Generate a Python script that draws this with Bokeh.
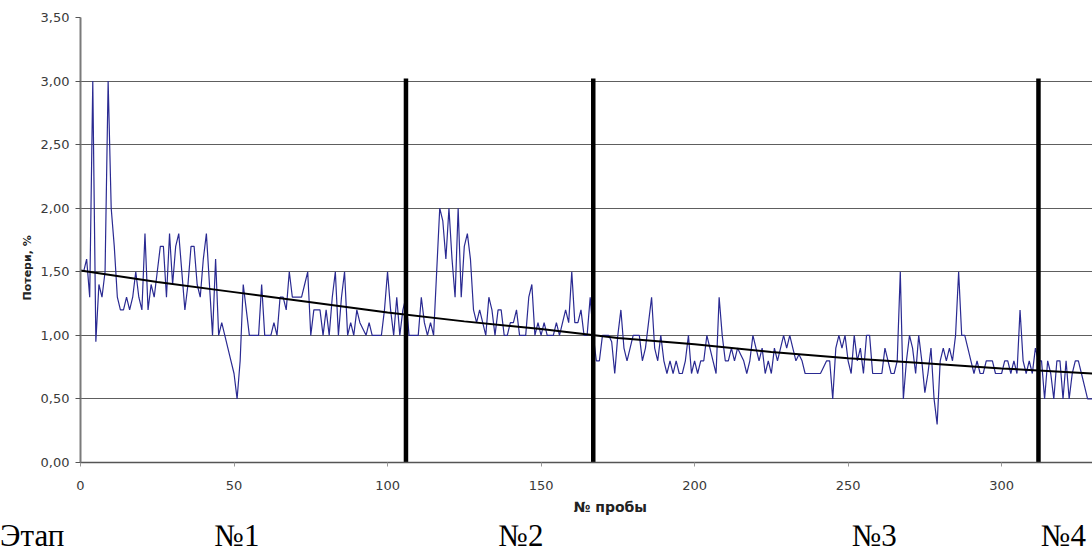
from bokeh.plotting import figure
from bokeh.models import FixedTicker, Range1d, Title, Div
from bokeh.layouts import column
from bokeh.embed import file_html
from bokeh.resources import INLINE

# ---- data ----
losses = [
    1.5, 1.6, 1.3, 3.0, 0.95, 1.4, 1.3, 1.5, 3.0, 2.0,
    1.7, 1.3, 1.2, 1.2, 1.3, 1.2, 1.3, 1.5, 1.3, 1.2,
    1.8, 1.2, 1.4, 1.3, 1.5, 1.7, 1.7, 1.3, 1.8, 1.4,
    1.7, 1.8, 1.5, 1.2, 1.4, 1.7, 1.7, 1.4, 1.3, 1.6,
    1.8, 1.4, 1.0, 1.6, 1.0, 1.1, 1.0, 0.9, 0.8, 0.7,
    0.5, 0.8, 1.4, 1.2, 1.0, 1.0, 1.0, 1.0, 1.4, 1.0,
    1.0, 1.0, 1.1, 1.0,
    1.3, 1.3, 1.2, 1.5, 1.3, 1.3, 1.3, 1.3, 1.4, 1.5,
    1.0, 1.2, 1.2, 1.2, 1.0, 1.2, 1.0, 1.3, 1.5, 1.0,
    1.3, 1.5, 1.0, 1.1, 1.0, 1.2, 1.1, 1.05, 1.0, 1.1,
    1.0, 1.0, 1.0, 1.0, 1.2, 1.5, 1.2, 1.0, 1.3, 1.0,
    1.2, 1.3, 1.0, 1.0, 1.0, 1.0, 1.3, 1.1, 1.0, 1.1,
    1.0, 1.5, 2.0, 1.9, 1.6, 2.0, 1.6, 1.3, 2.0, 1.3,
    1.7, 1.8, 1.6, 1.2, 1.1,
    1.2, 1.1, 1.0, 1.3, 1.2, 1.0, 1.2, 1.2, 1.0, 1.0,
    1.1, 1.1, 1.2, 1.0, 1.0, 1.0, 1.3, 1.4, 1.0, 1.1,
    1.0, 1.1, 1.0, 1.0, 1.0, 1.1, 1.0, 1.1, 1.2, 1.1,
    1.5, 1.1, 1.1, 1.2, 1.0, 1.0, 1.3, 1.0, 0.8, 0.8,
    1.0, 1.0, 1.0, 0.95, 0.7, 1.0, 1.2, 0.9, 0.8, 0.9,
    1.0, 1.0, 1.0, 0.8, 0.9, 1.1, 1.3, 0.9, 0.8, 1.0,
    0.8, 0.7, 0.8, 0.7, 0.8, 0.7, 0.7, 0.8, 1.0, 0.7,
    0.8, 0.7, 0.8, 0.8, 1.0, 0.9, 0.8, 0.7, 1.3, 1.0,
    0.8, 0.8, 0.9, 0.8, 0.9, 0.85, 0.8, 0.7, 0.8, 1.0,
    0.9, 0.8, 0.9, 0.7, 0.8, 0.7, 0.9, 0.8, 0.9, 1.0,
    0.9, 1.0, 0.9, 0.8, 0.85, 0.8, 0.7, 0.7, 0.7, 0.7,
    0.7, 0.7, 0.75, 0.8, 0.8,
    0.5, 0.9, 1.0, 0.9, 1.0, 0.8, 0.7, 1.0, 0.8, 0.9,
    0.7, 1.0, 1.0, 0.7, 0.7, 0.7, 0.7, 0.9, 0.8, 0.7,
    0.7, 0.8, 1.5, 0.5, 0.8, 1.0, 0.9, 0.7, 1.0, 0.8,
    0.55, 0.7, 0.9, 0.5, 0.3, 0.8, 0.9, 0.8, 0.9, 0.8,
    1.0, 1.5, 1.0, 1.0, 0.9, 0.8, 0.7, 0.8, 0.7, 0.7,
    0.8, 0.8, 0.8, 0.7, 0.7, 0.7, 0.8, 0.8, 0.7, 0.8,
    0.7, 1.2, 0.8, 0.7, 0.8, 0.7, 0.9, 0.8, 0.8, 0.5,
    0.8, 0.7, 0.5, 0.8, 0.8, 0.5, 0.8, 0.5, 0.7, 0.8,
    0.8, 0.7, 0.6, 0.5, 0.5, 0.5,
]
sample_no = list(range(1, len(losses) + 1))

trend_x = [0, 25, 50, 75, 100, 125, 150, 175, 200, 225, 250, 275, 300, 330]
trend_y = [1.51, 1.42, 1.34, 1.26, 1.18, 1.11, 1.05, 0.98, 0.93, 0.87, 0.82, 0.78, 0.74, 0.70]

stage_bounds = [106, 167, 312]
stage_top = 3.02
stage_word = "Этап"
stage_names = ["№1", "№2", "№3", "№4"]
stage_name_x = [51.1, 143.6, 258.7, 320.3]

x_ticks = [0, 50, 100, 150, 200, 250, 300]
y_ticks = [0.0, 0.5, 1.0, 1.5, 2.0, 2.5, 3.0, 3.5]
y_tick_labels = ["0,00", "0,50", "1,00", "1,50", "2,00", "2,50", "3,00", "3,50"]
x_title = "№ пробы"
y_title = "Потери, %"

W = 1092
LEFT = 80
X_END = 329.6
PX_PER_UNIT = (W - LEFT) / X_END

# ---- main chart ----
p = figure(width=W, height=522, output_backend="svg", toolbar_location=None,
           x_range=Range1d(0, X_END), y_range=Range1d(0, 3.5),
           min_border_left=LEFT, min_border_right=0, min_border_top=17, min_border_bottom=60)
p.outline_line_color = None

p.xgrid.grid_line_color = None
p.ygrid.grid_line_color = "#5e5e5e"
p.ygrid.grid_line_width = 1
p.ygrid.ticker = FixedTicker(ticks=y_ticks)

p.xaxis.ticker = FixedTicker(ticks=x_ticks)
p.yaxis.ticker = FixedTicker(ticks=y_ticks)
p.yaxis.major_label_overrides = {t: l for t, l in zip(y_ticks, y_tick_labels)}

for ax in (p.xaxis[0], p.yaxis[0]):
    ax.major_label_text_font = "DejaVu Sans"
    ax.major_label_text_font_size = "13px"
    ax.major_label_text_color = "#3a3a3a"
    ax.minor_tick_line_color = None
    ax.major_tick_in = 0
p.xaxis.axis_line_color = "#555555"
p.xaxis.axis_line_width = 1.5
p.xaxis.major_tick_line_color = "#999999"
p.xaxis.major_tick_out = 4
p.xaxis.major_label_standoff = 14
p.yaxis.axis_line_color = "#7a7a7a"
p.yaxis.axis_line_width = 2
p.yaxis.major_tick_line_color = "#555555"
p.yaxis.major_tick_out = 5
p.yaxis.major_label_standoff = 6

p.line(sample_no, losses, line_color="#2a2a92", line_width=1.2)
p.line(trend_x, trend_y, line_color="black", line_width=2)
p.segment(x0=stage_bounds, y0=[0] * len(stage_bounds), x1=stage_bounds,
          y1=[stage_top] * len(stage_bounds), line_color="black", line_width=4.5)

# axis titles as side-panel titles
p.add_layout(Title(text=x_title, align="left", offset=493, standoff=9,
                   text_font="DejaVu Sans", text_font_size="14px", text_font_style="bold",
                   text_color="#222222"), "below")
p.add_layout(Title(text=y_title, align="left", offset=162, standoff=8,
                   text_font="DejaVu Sans", text_font_size="11px", text_font_style="bold",
                   text_color="#222222"), "left")

# ---- stage caption row below the chart, on the same horizontal scale ----
spans = ['<span style="position:absolute;left:0px;top:0px;">%s</span>' % stage_word]
for sx, name in zip(stage_name_x, stage_names):
    px = LEFT + sx * PX_PER_UNIT
    spans.append('<span style="position:absolute;left:%.1fpx;top:0px;'
                 'transform:translateX(-50%%);">%s</span>' % (px, name))
caption_html = ('<div style="position:relative;width:%dpx;height:31px;overflow:visible;'
                "font-family:'Liberation Serif';font-size:31px;line-height:27px;"
                'color:black;white-space:nowrap;">%s</div>' % (W, "".join(spans)))
caption = Div(text=caption_html, width=W, height=31, margin=0)

layout = column(p, caption, spacing=0)
open("out.html", "w").write(file_html(layout, INLINE))
